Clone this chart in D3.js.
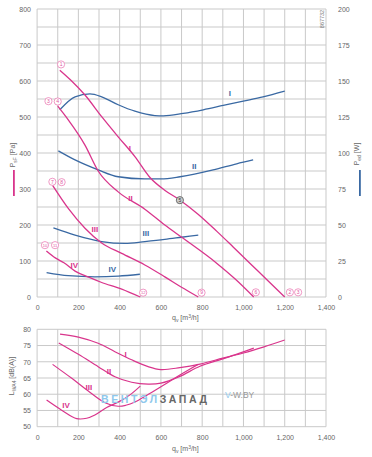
<!DOCTYPE html>
<html><head><meta charset="utf-8">
<script src="https://cdn.jsdelivr.net/npm/d3@7"></script>
<style>
body{margin:0;background:#fff;}
svg text{font-family:"Liberation Sans",Arial,sans-serif;}
</style></head>
<body>
<svg id="c" width="372" height="457"></svg>
<script>
// ---------- DATA ----------
const xTicks = [0,200,400,600,800,1000,1200,1400];
const xTickLabels = ["0","200","400","600","800","1,000","1,200","1,400"];
const pTicks = [0,100,200,300,400,500,600,700,800];
const wTicks = [0,25,50,75,100,125,150,175,200];
const dbTicks = [50,55,60,65,70,75,80];

// static pressure curves [m3/h, Pa]
const pressI   = [[110,630],[160,604],[232,561],[313,501],[393,445],[474,390],[547,332],[620,296],[693,269],[780,230],[870,183],[950,139],[1031,94],[1110,50],[1200,0]];
const pressII  = [[100,530],[151,492],[232,422],[296,350],[393,292],[522,244],[619,200],[708,163],[870,94],[960,50],[1050,0]];
const pressIII = [[75,310],[151,246],[232,191],[313,150],[410,121],[522,89],[619,56],[700,27],[781,0]];
const pressIV  = [[45,128],[90,108],[130,95],[184,72],[250,55],[310,41],[410,22],[500,0]];

// power curves [m3/h, W]
const powI   = [[110,130],[184,139],[256,141],[313,139],[393,133.5],[474,129],[571,126],[612,125.8],[708,127.5],[805,130],[902,133],[999,136],[1095,139],[1200,143]];
const powII  = [[103,101.5],[184,95.2],[296,88.3],[393,83.5],[522,82],[600,82],[693,83.5],[853,88.2],[967,92.5],[1047,95.2]];
const powIII = [[79,48],[184,43],[313,38.5],[426,37.2],[522,38.5],[619,40],[700,41.5],[781,43]];
const powIV  = [[46,17],[151,14.8],[280,14],[393,14.5],[498,15.8]];

// sound power curves [m3/h, dB(A)]
const soundI   = [[111,78.5],[200,77.6],[296,75.7],[377,73.1],[458,70.6],[538,68.5],[600,67.6],[692,68.2],[789,69.3],[900,71.1],[1000,72.7],[1100,74.6],[1200,76.7]];
const soundII  = [[105,75.8],[200,72.3],[296,68.5],[377,65.4],[458,63.7],[538,63.1],[600,63.4],[692,65.5],[789,68.6],[900,70.9],[975,72.5],[1050,74.2]];
const soundIII = [[75,69.2],[168,64.9],[248,61.0],[329,57.4],[393,56.3],[430,56.6],[474,57.6],[530,59.6],[628,63.4],[700,66.2],[780,69.2]];
const soundIV  = [[46,58.2],[119,55.1],[192,52.5],[240,52.6],[280,53.6],[337,55.9],[400,57.8],[450,59.8],[500,62.5]];

// curve labels
const pressLabels = [{t:"I",x:450,y:414},{t:"II",x:453,y:274},{t:"III",x:280,y:188},{t:"IV",x:180,y:89}];
const powLabels   = [{t:"I",x:934,y:141.5},{t:"II",x:761,y:90.5},{t:"III",x:527,y:44},{t:"IV",x:364,y:19}];
const soundLabels = [{t:"I",x:429,y:72.3},{t:"II",x:348,y:67.2},{t:"III",x:251,y:62.3},{t:"IV",x:140,y:56.7}];

// operating point markers [m3/h, Pa]
const points = [
  {n:"1",x:116,y:646},{n:"3",x:55,y:544},{n:"4",x:100,y:543},
  {n:"7",x:74,y:320},{n:"8",x:119,y:319},{n:"10",x:38,y:144},{n:"11",x:87,y:144},
  {n:"12",x:514,y:12},{n:"9",x:797,y:12},{n:"6",x:1060,y:13},{n:"2",x:1225,y:13},{n:"3",x:1265,y:13}
];
const grayPoint = {n:"5",x:692,y:269};

// ---------- DRAW ----------
const MAG = "#d9358c", BLUE = "#3a69a3", GRID = "#c9c9c9", TXT = "#666";
const svg = d3.select("#c");

const x = d3.scaleLinear().domain([0,1400]).range([37.1,326]);
const yP = d3.scaleLinear().domain([0,800]).range([297,9]);
const yW = d3.scaleLinear().domain([0,200]).range([297,9]);
const yD = d3.scaleLinear().domain([50,80]).range([426.7,329.3]);

function grid(ys, yVals){
  const g = svg.append("g");
  g.selectAll("line.v").data(d3.range(0,1401,100)).join("line")
    .attr("x1",d=>x(d)).attr("x2",d=>x(d))
    .attr("y1",ys(yVals[0])).attr("y2",ys(yVals[yVals.length-1]))
    .attr("stroke",GRID).attr("stroke-width",1);
  g.selectAll("line.h").data(yVals).join("line")
    .attr("x1",x(0)).attr("x2",x(1400))
    .attr("y1",d=>ys(d)).attr("y2",d=>ys(d))
    .attr("stroke",GRID).attr("stroke-width",1);
}
grid(yP, d3.range(0,801,50));
grid(yD, d3.range(50,81,5));

// axes (text ticks via d3 axis)
function styleAxis(g){
  g.select(".domain").remove();
  g.selectAll(".tick line").remove();
  g.selectAll(".tick text").attr("fill",TXT).attr("font-size","7px");
}
svg.append("g").attr("transform","translate(0,297)")
  .call(d3.axisBottom(x).tickValues(xTicks).tickFormat((d,i)=>xTickLabels[i]).tickSize(0).tickPadding(8))
  .call(styleAxis);
svg.append("g").attr("transform","translate(0,426.7)")
  .call(d3.axisBottom(x).tickValues(xTicks).tickFormat((d,i)=>xTickLabels[i]).tickSize(0).tickPadding(8))
  .call(styleAxis);
svg.append("g").attr("transform","translate(31,0)")
  .call(d3.axisLeft(yP).tickValues(pTicks).tickSize(0).tickPadding(0))
  .call(styleAxis);
svg.append("g").attr("transform","translate(338,0)")
  .call(d3.axisRight(yW).tickValues(wTicks).tickSize(0).tickPadding(0))
  .call(styleAxis);
svg.append("g").attr("transform","translate(31,0)")
  .call(d3.axisLeft(yD).tickValues(dbTicks).tickSize(0).tickPadding(0))
  .call(styleAxis);
svg.selectAll("g").attr("font-family",null);

// curves
const lineP = d3.line().x(d=>x(d[0])).y(d=>yP(d[1])).curve(d3.curveMonotoneX);
const lineW = d3.line().x(d=>x(d[0])).y(d=>yW(d[1])).curve(d3.curveMonotoneX);
const lineD = d3.line().x(d=>x(d[0])).y(d=>yD(d[1])).curve(d3.curveCatmullRom.alpha(0.5));
[powI,powII,powIII,powIV].forEach(s=>svg.append("path").attr("d",lineW(s)).attr("fill","none").attr("stroke",BLUE).attr("stroke-width",1.3));
[pressI,pressII,pressIII,pressIV].forEach(s=>svg.append("path").attr("d",lineP(s)).attr("fill","none").attr("stroke",MAG).attr("stroke-width",1.3));
[soundI,soundII,soundIII,soundIV].forEach(s=>svg.append("path").attr("d",lineD(s)).attr("fill","none").attr("stroke",MAG).attr("stroke-width",1.2));

// curve labels
function labels(data, ys, color){
  svg.append("g").selectAll("text").data(data).join("text")
    .attr("x",d=>x(d.x)).attr("y",d=>ys(d.y)).attr("dy","0.35em")
    .attr("text-anchor","middle").attr("font-size","8px").attr("font-weight","bold")
    .attr("fill",color).text(d=>d.t);
}
labels(pressLabels, yP, MAG);
labels(powLabels, yW, BLUE);
labels(soundLabels, yD, MAG);

// point markers
const pg = svg.append("g").selectAll("g").data(points).join("g")
  .attr("transform",d=>`translate(${x(d.x)},${yP(d.y)})`);
pg.append("circle").attr("r",3.6).attr("fill","#fff").attr("stroke","#ea6fae").attr("stroke-width",0.7);
pg.append("text").attr("text-anchor","middle").attr("dy","0.35em").attr("font-size",d=>d.n.length>1?"4px":"5px")
  .attr("fill","#e0559f").text(d=>d.n);
const gp = svg.append("g").attr("transform",`translate(${x(grayPoint.x)},${yP(grayPoint.y)})`);
gp.append("circle").attr("r",3.6).attr("fill","#ccc").attr("stroke","#555").attr("stroke-width",0.8);
gp.append("text").attr("text-anchor","middle").attr("dy","0.35em").attr("font-size","5px").attr("fill","#333").text(grayPoint.n);

// axis titles
const t1 = svg.append("text").attr("transform","translate(15,155) rotate(-90)").attr("text-anchor","middle")
  .attr("font-size","7px").attr("fill",TXT);
t1.append("tspan").text("P");
t1.append("tspan").attr("font-size","5px").attr("dy","1.5").text("sF");
t1.append("tspan").attr("dy","-1.5").text(" [Pa]");
svg.append("rect").attr("x",13).attr("y",170).attr("width",1.8).attr("height",26).attr("fill",MAG);

const t2 = svg.append("text").attr("transform","translate(359,154) rotate(-90)").attr("text-anchor","middle")
  .attr("font-size","7px").attr("fill",TXT);
t2.append("tspan").text("P");
t2.append("tspan").attr("font-size","5px").attr("dy","1.5").text("ed");
t2.append("tspan").attr("dy","-1.5").text(" [W]");
svg.append("rect").attr("x",359).attr("y",170).attr("width",1.8).attr("height",26).attr("fill",BLUE);

const t3 = svg.append("text").attr("transform","translate(14,376) rotate(-90)").attr("text-anchor","middle")
  .attr("font-size","7px").attr("fill",TXT);
t3.append("tspan").text("L");
t3.append("tspan").attr("font-size","5px").attr("dy","1.5").text("WA4");
t3.append("tspan").attr("dy","-1.5").text(" [dB(A)]");

function qTitle(yy){
  const t = svg.append("text").attr("x",172).attr("y",yy).attr("font-size","7px").attr("fill",TXT);
  t.append("tspan").text("q");
  t.append("tspan").attr("font-size","5px").attr("dy","1.5").text("v");
  t.append("tspan").attr("dy","-1.5").text(" [m");
  t.append("tspan").attr("font-size","5px").attr("dy","-2.5").text("3");
  t.append("tspan").attr("dy","2.5").text("/h]");
}
qTitle(320);
qTitle(451);

// id text
svg.append("text").attr("transform","translate(324,19) rotate(-90)").attr("text-anchor","middle")
  .attr("font-size","5.5px").attr("fill","#777").text("867732");

// watermark
const wm = svg.append("text").attr("x",101).attr("y",403).attr("font-size","10.5px").attr("font-weight","bold")
  .attr("letter-spacing","2.6px");
wm.append("tspan").attr("fill","#8fc8ec").text("ВЕНТЭЛ");
wm.append("tspan").attr("fill","#666").text("ЗАПАД");
const wm2 = svg.append("text").attr("x",225).attr("y",398).attr("font-size","8.5px");
wm2.append("tspan").attr("fill","#8fc8ec").text("V");
wm2.append("tspan").attr("fill","#999").text("-W.BY");
</script>
</body></html>
